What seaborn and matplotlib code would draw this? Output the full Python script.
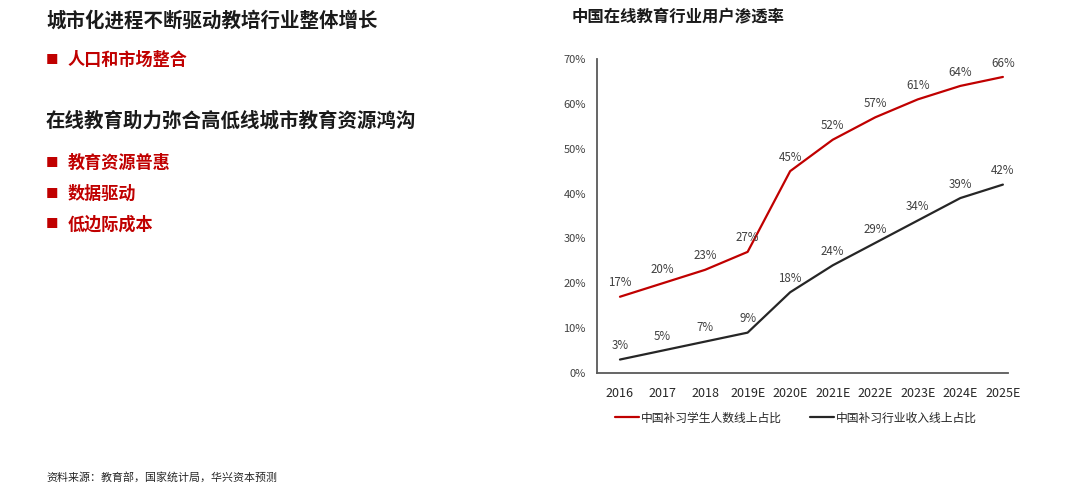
import matplotlib
matplotlib.use("Agg")
import matplotlib.pyplot as plt
import seaborn as sns
import pandas as pd

# 数据
years = ['2016', '2017', '2018', '2019E', '2020E', '2021E', '2022E', '2023E', '2024E', '2025E']
student_share = [17, 20, 23, 27, 45, 52, 57, 61, 64, 66]
revenue_share = [3, 5, 7, 9, 18, 24, 29, 34, 39, 42]
series_names = ['中国补习学生人数线上占比', '中国补习行业收入线上占比']
yticks = [0, 10, 20, 30, 40, 50, 60, 70]

left_title_1 = '城市化进程不断驱动教培行业整体增长'
left_items_1 = ['人口和市场整合']
left_title_2 = '在线教育助力弥合高低线城市教育资源鸿沟'
left_items_2 = ['教育资源普惠', '数据驱动', '低边际成本']
chart_title = '中国在线教育行业用户渗透率'
source_text = '资料来源：教育部，国家统计局，华兴资本预测'

sns.set_theme(style='white')
plt.rcParams['font.family'] = ['Noto Sans CJK SC', 'DejaVu Sans']

df = pd.DataFrame({
    'year': years * 2,
    'value': student_share + revenue_share,
    'series': [series_names[0]] * len(years) + [series_names[1]] * len(years),
})

red = '#C00000'
dark = '#262626'

fig = plt.figure(figsize=(10.8, 4.88), dpi=100)
ax = fig.add_axes([597 / 1080, 1 - 373 / 488, (1008 - 597) / 1080, (373 - 59) / 488])

sns.lineplot(data=df, x='year', y='value', hue='series', palette=[red, dark],
             linewidth=1.6, legend=False, ax=ax, sort=False)

ax.set_xlim(-0.54, 9.12)
ax.set_ylim(0, 70)
ax.set_yticks(yticks)
ax.set_yticklabels([f'{v}%' for v in yticks], fontsize=8, color='#404040')
ax.tick_params(axis='x', labelsize=9, colors='#262626', pad=10, length=0)
ax.tick_params(axis='y', pad=8, length=0)
ax.set_xlabel('')
ax.set_ylabel('')
for s in ['top', 'right']:
    ax.spines[s].set_visible(False)
for s in ['left', 'bottom']:
    ax.spines[s].set_color('#595959')
    ax.spines[s].set_linewidth(1.3)

# 数据标签
for vals in [student_share, revenue_share]:
    for i, v in enumerate(vals):
        ax.annotate(f'{v}%', (i, v), xytext=(0, 10), textcoords='offset points',
                    ha='center', va='center', fontsize=8.3, color='#404040')

lines = ax.get_lines()[:2]
fig.legend(lines, series_names, loc='center left', bbox_to_anchor=(615 / 1080, 1 - 418 / 488),
           ncol=2, frameon=False, fontsize=8.5, handlelength=2.0, handletextpad=0.2,
           columnspacing=2.4, borderpad=0, borderaxespad=0, labelcolor='#262626')

# 右侧标题
fig.text(572 / 1080, 1 - 17 / 488, chart_title, fontsize=11.8, fontweight='bold',
         color='#1a1a1a', va='center', ha='left')

# 左侧文字
def heading(y, s):
    fig.text(46 / 1080, 1 - y / 488, s, fontsize=14, fontweight='bold',
             color='#1a1a1a', va='center', ha='left')

def item(y, s):
    fig.text(46 / 1080, 1 - y / 488, '■', fontsize=9, color=red, va='center', ha='left')
    fig.text(68 / 1080, 1 - y / 488, s, fontsize=12.3, fontweight='bold',
             color=red, va='center', ha='left')

heading(21, left_title_1)
for k, s in enumerate(left_items_1):
    item(60 + 31 * k, s)
heading(121, left_title_2)
for k, s in enumerate(left_items_2):
    item(163 + 31 * k, s)

fig.text(46 / 1080, 1 - 477 / 488, source_text, fontsize=7.9, color='#262626',
         va='center', ha='left')

fig.savefig('out.png', dpi=100)
